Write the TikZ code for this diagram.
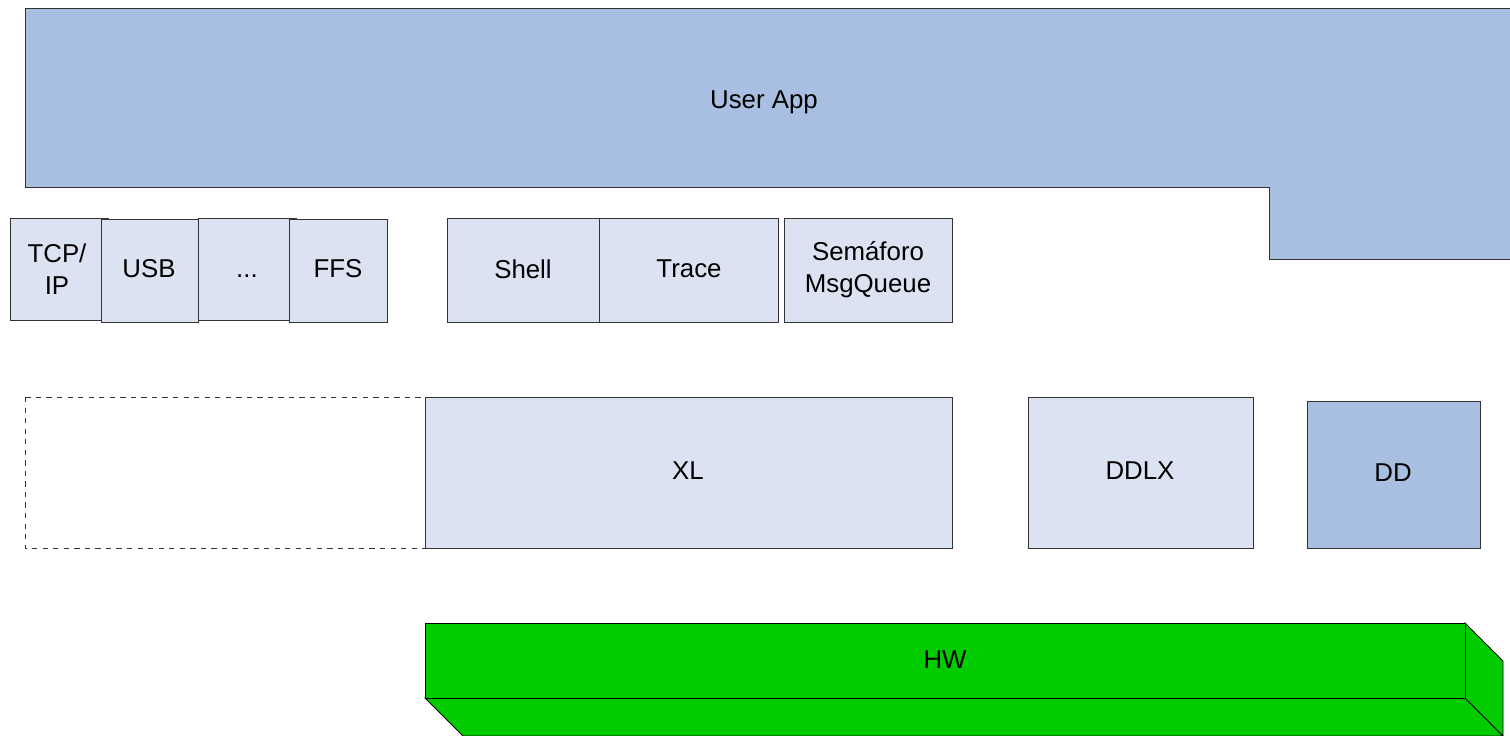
\documentclass[tikz,border=0pt]{standalone}
\usepackage{fontspec}
\setmainfont{Liberation Sans}
\definecolor{boxlight}{RGB}{219,226,241}
\definecolor{boxdark}{RGB}{169,191,225}
\definecolor{hwgreen}{RGB}{0,204,0}
\begin{document}
\begin{tikzpicture}[x=0.02cm, y=-0.02cm,
  box/.style={draw=black!80, line width=0.5pt, fill=boxlight},
  darkbox/.style={draw=black!80, line width=0.5pt, fill=boxdark},
  lbl/.style={font=\fontsize{14.7}{18.3}\selectfont, align=center, inner sep=0pt}]
  \useasboundingbox (0,0) rectangle (1510,735);
  %--- User App
  \draw[darkbox] (25,8) -- (1510,8) -- (1510,259) -- (1269,259) -- (1269,187) -- (25,187) -- cycle;
  \node[lbl] (app) at (764,102) {User App};
  %--- Stacks
  \draw[box] (10,218) rectangle (108,320);
  \node[lbl] (tcp) at (57,269) {TCP/\\IP};
  \draw[box] (198,218) rectangle (296,320);
  \node[lbl] (dots) at (247,269) {\vphantom{S}...};
  \draw[box] (101,219) rectangle (198,322);
  \node[lbl] (usb) at (149,269) {USB};
  \draw[box] (289,219) rectangle (387,322);
  \node[lbl] (ffs) at (338,269) {FFS};
  %--- Services
  \draw[box] (447,218) rectangle (599,322);
  \node[lbl] (shell) at (523,269) {Shell};
  \draw[box] (599,218) rectangle (778,322);
  \node[lbl] (trace) at (689,269) {Trace};
  \draw[box] (784,218) rectangle (952,322);
  \node[lbl] (sem) at (868,270) {Semáforo\\MsgQueue};
  %--- Layers
  \draw[dashed, line width=0.5pt, black!80] (25,397) rectangle (425,548);
  \draw[box] (425,397) rectangle (952,548);
  \node[lbl] (xl) at (688,471) {XL};
  \draw[box] (1028,397) rectangle (1253,548);
  \node[lbl] (ddlx) at (1140,471) {DDLX};
  \draw[darkbox] (1307,401) rectangle (1480,548);
  \node[lbl] (dd) at (1393,473) {DD};
  %--- HW
  \draw[fill=hwgreen, draw=black, line width=0.5pt] (425,698) -- (1465,698) -- (1503,736) -- (463,736) -- cycle;
  \draw[fill=hwgreen, draw=black, line width=0.5pt] (1465,623) -- (1503,661) -- (1503,736) -- (1465,698) -- cycle;
  \draw[fill=hwgreen, draw=black, line width=0.5pt] (425,623) rectangle (1465,698);
  \node[lbl] (hw) at (945,660) {HW};
\end{tikzpicture}
\end{document}
